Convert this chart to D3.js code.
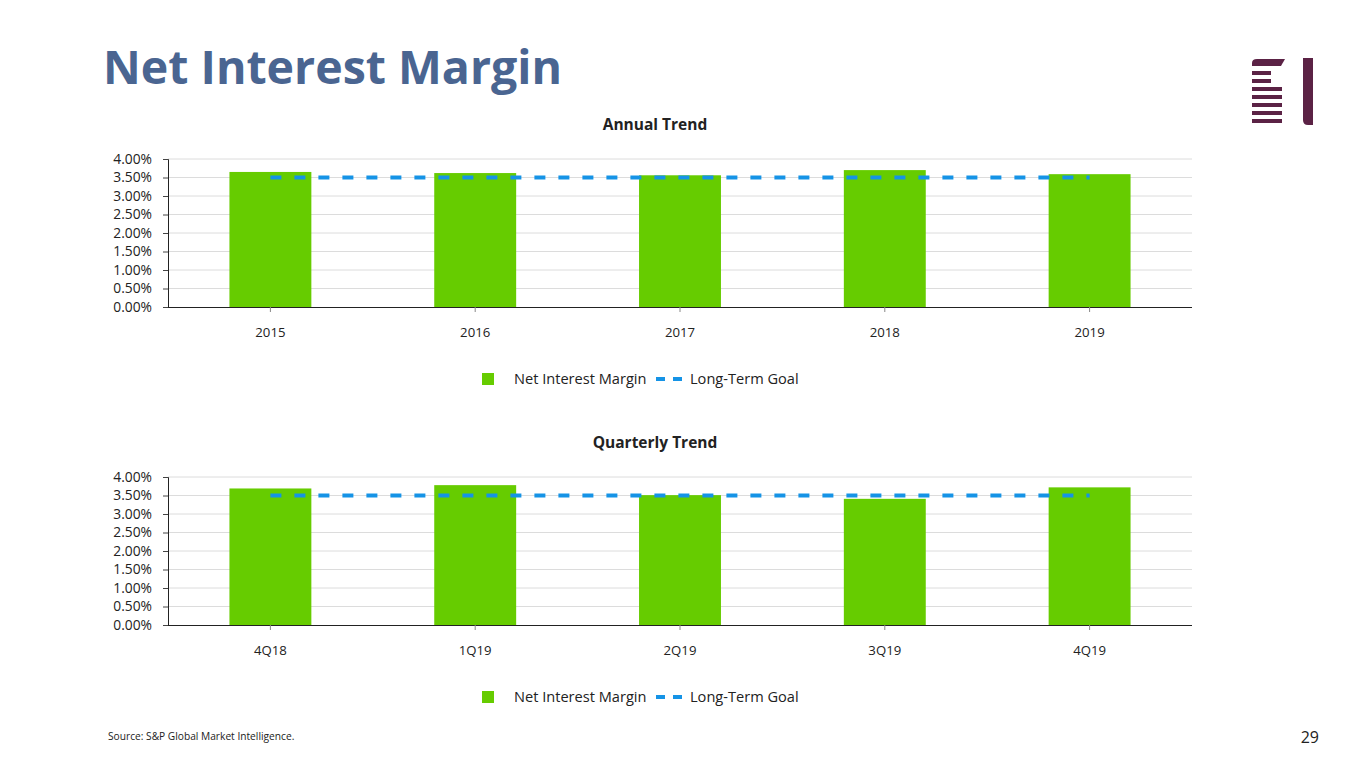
<!DOCTYPE html>
<html><head><meta charset="utf-8">
<script src="https://cdn.jsdelivr.net/npm/d3@7"></script>
<style>body{margin:0;background:#fff}svg{display:block}text{font-family:"Open Sans",sans-serif}</style>
</head><body>
<svg id="c" width="1365" height="768"></svg>
<script>
const annualCategories = ["2015","2016","2017","2018","2019"];
const annualValues = [3.65, 3.62, 3.56, 3.70, 3.59];
const annualGoal = [3.50, 3.50, 3.50, 3.50, 3.50];
const quarterCategories = ["4Q18","1Q19","2Q19","3Q19","4Q19"];
const quarterValues = [3.69, 3.78, 3.51, 3.41, 3.72];
const quarterGoal = [3.50, 3.50, 3.50, 3.50, 3.50];
const yTicks = [0,0.5,1,1.5,2,2.5,3,3.5,4];

const svg = d3.select("#c");
const GREEN = "#66CC00", BLUE = "#1593E6";

svg.append("text").attr("x",103).attr("y",84).attr("font-size",46).attr("font-weight",700)
  .attr("fill","#4A6591").attr("textLength",459).attr("lengthAdjust","spacingAndGlyphs").text("Net Interest Margin");

// logo
const logo = svg.append("g").attr("fill","#5B2245");
logo.append("path").attr("d","M1252,66 L1252,63 Q1252,59 1257,59 L1285,59 L1281,66 Z");
[[71,1271],[79,1271],[87,1282],[95,1282],[103,1282],[111,1282],[119,1282]].forEach(([y,x2])=>{
  logo.append("rect").attr("x",1252).attr("y",y).attr("width",x2-1252).attr("height",4);
});
logo.append("path").attr("d","M1303,58 L1313,58 L1313,125 L1308,125 Q1303,125 1303,120 Z");

svg.append("text").attr("x",108).attr("y",740).attr("font-size",10.2).attr("fill","#222").text("Source: S&P Global Market Intelligence.");
svg.append("text").attr("x",1319).attr("y",743).attr("font-size",16).attr("text-anchor","end").attr("fill","#222").text("29");

function chart(top, title, cats, vals, goal){
  const x0=168, x1=1192, y0=top, y1=top+148;
  const x = d3.scaleBand().domain(cats).range([x0,x1]).paddingInner(0.6).paddingOuter(0.3);
  const y = d3.scaleLinear().domain([0,4]).range([y1,y0]);
  const g = svg.append("g");
  g.append("text").attr("x",655).attr("y",top-29).attr("text-anchor","middle").attr("font-size",15.5)
    .attr("font-weight",700).attr("fill","#222").text(title);
  g.selectAll(".grid").data(yTicks.slice(1)).join("line")
    .attr("x1",x0).attr("x2",x1).attr("y1",d=>y(d)).attr("y2",d=>y(d)).attr("stroke","#DCDCDC").attr("stroke-width",1);
  g.selectAll(".bar").data(vals).join("rect")
    .attr("x",(d,i)=>x(cats[i])).attr("width",x.bandwidth())
    .attr("y",d=>y(d)).attr("height",d=>y1-y(d)).attr("fill",GREEN);
  const line = d3.line().x((d,i)=>x(cats[i])+x.bandwidth()/2).y(d=>y(d));
  g.append("path").datum(goal).attr("d",line).attr("fill","none").attr("stroke",BLUE)
    .attr("stroke-width",4).attr("stroke-dasharray","11,13");
  const ya = g.append("g").attr("transform",`translate(${x0},0)`)
    .call(d3.axisLeft(y).tickValues(yTicks).tickFormat(d=>d.toFixed(2)+"%").tickSize(5).tickPadding(11));
  ya.select(".domain").attr("stroke","#222");
  ya.selectAll(".tick line").attr("stroke","#444");
  ya.selectAll("text").attr("font-size",13.8).attr("fill","#222").attr("font-family","Open Sans");
  const xa = g.append("g").attr("transform",`translate(0,${y1})`)
    .call(d3.axisBottom(x).tickSize(5).tickPadding(16).tickSizeOuter(0));
  xa.select(".domain").attr("stroke","#222").attr("d",`M${x0},0.5H${x1}`);
  xa.selectAll(".tick line").attr("stroke","#888");
  xa.selectAll("text").attr("font-size",13.2).attr("fill","#222").attr("font-family","Open Sans");
  // legend
  const ly = y1+72;
  g.append("rect").attr("x",482).attr("y",ly-6).attr("width",12).attr("height",12).attr("fill",GREEN);
  g.append("text").attr("x",514).attr("y",ly+5).attr("font-size",14.6).attr("fill","#222").text("Net Interest Margin");
  g.append("line").attr("x1",656).attr("x2",684).attr("y1",ly).attr("y2",ly).attr("stroke",BLUE)
    .attr("stroke-width",4).attr("stroke-dasharray","9,8");
  g.append("text").attr("x",690).attr("y",ly+5).attr("font-size",14.6).attr("fill","#222").text("Long-Term Goal");
}
chart(159, "Annual Trend", annualCategories, annualValues, annualGoal);
chart(477, "Quarterly Trend", quarterCategories, quarterValues, quarterGoal);
</script>
</body></html>
